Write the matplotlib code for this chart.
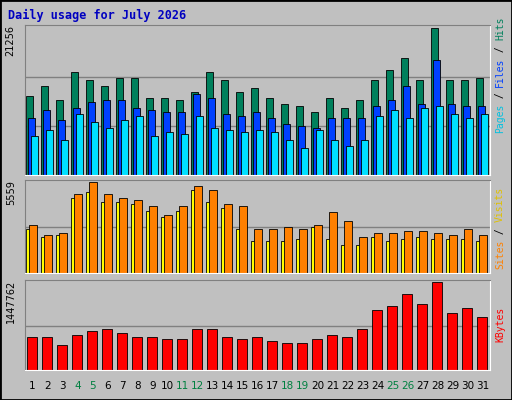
import matplotlib
matplotlib.use("Agg")
import matplotlib.pyplot as plt
import numpy as np

days = list(range(1, 32))
weekend = [4, 5, 11, 12, 18, 19, 25, 26]

hits = [11420, 12870, 10845, 14890, 13740, 12870, 14030, 14030, 11130, 11130, 10845,
        12000, 14890, 13740, 12000, 12580, 11130, 10270, 9980, 9110, 11130, 9690,
        10845, 13740, 15180, 16920, 13740, 21256, 13740, 13740, 14030]
files = [8240, 9400, 7950, 9690, 10560, 10845, 10845, 9690, 9400, 9110, 9110,
         11710, 11130, 8820, 8530, 9110, 8240, 7370, 7090, 6800, 8240, 8240,
         8240, 9980, 10845, 12870, 10270, 16630, 10270, 9980, 9980]
pages = [5640, 6510, 5060, 8820, 7660, 6800, 7950, 8530, 5640, 6220, 5930,
         8530, 6800, 6510, 6220, 6510, 6220, 5060, 3900, 6510, 5060, 4190,
         5060, 8530, 9400, 8240, 9690, 9980, 8820, 8240, 8820]
visits = [2940, 2310, 2440, 4810, 5559, 4810, 4560, 4440, 4060, 3560, 4060,
          5310, 5060, 4190, 4060, 2690, 2690, 2810, 2690, 2940, 3690, 3190,
          2190, 2440, 2440, 2560, 2560, 2440, 2310, 2690, 2310]
sites = [2690, 2190, 2310, 4560, 4940, 4310, 4310, 4190, 3810, 3440, 3810,
         5060, 4310, 3940, 2690, 1940, 1940, 1940, 2060, 2810, 2060, 1690,
         1690, 2190, 1940, 2060, 2190, 2060, 2060, 2060, 1940]
kbytes = [538700, 538700, 404000, 572400, 639700, 673400, 606000, 538700, 538700,
          505000, 505000, 673400, 673400, 538700, 505000, 538700, 471400, 437700,
          437700, 505000, 572400, 538700, 673400, 976400, 1043700, 1245700,
          1077400, 1447762, 942700, 1010000, 875400]

BG = "#C0C0C0"
W, H = 512, 400
fig = plt.figure(figsize=(W / 100, H / 100), dpi=100, facecolor=BG)
x = np.array(days)


def panel(top, bottom, vmax, lines):
    ax = fig.add_axes([25 / W, 1 - bottom / H, 465 / W, (bottom - top) / H])
    ax.set_facecolor(BG)
    ax.set_xlim(0.5, 31.5)
    ax.set_ylim(0, vmax * 1.02)
    ax.set_xticks([])
    ax.set_yticks([])
    for f in lines:
        ax.axhline(vmax * f, color="#808080", lw=1, zorder=0)
    for side in ("top", "left"):
        ax.spines[side].set_color("#808080")
    for side in ("bottom", "right"):
        ax.spines[side].set_color("white")
    ax.text(-0.02, 1.0, f"{vmax}", transform=ax.transAxes, rotation=90,
            ha="right", va="top", fontsize=7, family="DejaVu Sans")
    return ax


ax1 = panel(25, 175, max(hits), [1 / 3, 2 / 3])
ax1.bar(x - 0.45, hits, 0.45, align="edge", color="#00805C", edgecolor="black", lw=0.6)
ax1.bar(x - 0.28, files, 0.45, align="edge", color="#0040FF", edgecolor="black", lw=0.6)
ax1.bar(x - 0.11, pages, 0.45, align="edge", color="#00E0FF", edgecolor="black", lw=0.6)

ax2 = panel(180, 273, max(visits), [0.5])
ax2.bar(x - 0.42, sites, 0.5, align="edge", color="#FFFF00", edgecolor="black", lw=0.6)
ax2.bar(x - 0.22, visits, 0.5, align="edge", color="#FF8000", edgecolor="black", lw=0.6)

ax3 = panel(280, 370, max(kbytes), [0.5])
ax3.bar(x - 0.35, kbytes, 0.62, align="edge", color="#FF0000", edgecolor="black", lw=0.6)

for d in days:
    ax3.text(d, -0.12, str(d), transform=ax3.get_xaxis_transform(), ha="center",
             va="top", fontsize=7.5, color="#008040" if d in weekend else "black")

fig.text(8 / W, 1 - 15 / H, "Daily usage for July 2026", color="#0000C0",
         family="DejaVu Sans Mono", weight="bold", fontsize=8.5, va="center")


def side_label(ycenter, parts):
    total = sum(len(p) for p, _ in parts)
    step = 5.8
    y0 = ycenter + total * step / 2
    for p, c in parts:
        fig.text(500 / W, 1 - y0 / H, p, rotation=90, color=c, ha="center",
                 va="bottom", family="DejaVu Sans Mono", fontsize=7)
        y0 -= len(p) * step


side_label(75, [("Pages", "#00C0E0"), (" / ", "black"), ("Files", "#0040FF"),
                (" / ", "black"), ("Hits", "#00805C")])
side_label(228, [("Sites", "#FF8000"), (" / ", "black"), ("Visits", "#E0C000")])
side_label(325, [("KBytes", "#FF0000")])

fig.patches.append(plt.Rectangle((0, 0), 1, 1, transform=fig.transFigure,
                                 fill=False, edgecolor="black", lw=2))
fig.savefig("out.png", dpi=100, facecolor=BG)
